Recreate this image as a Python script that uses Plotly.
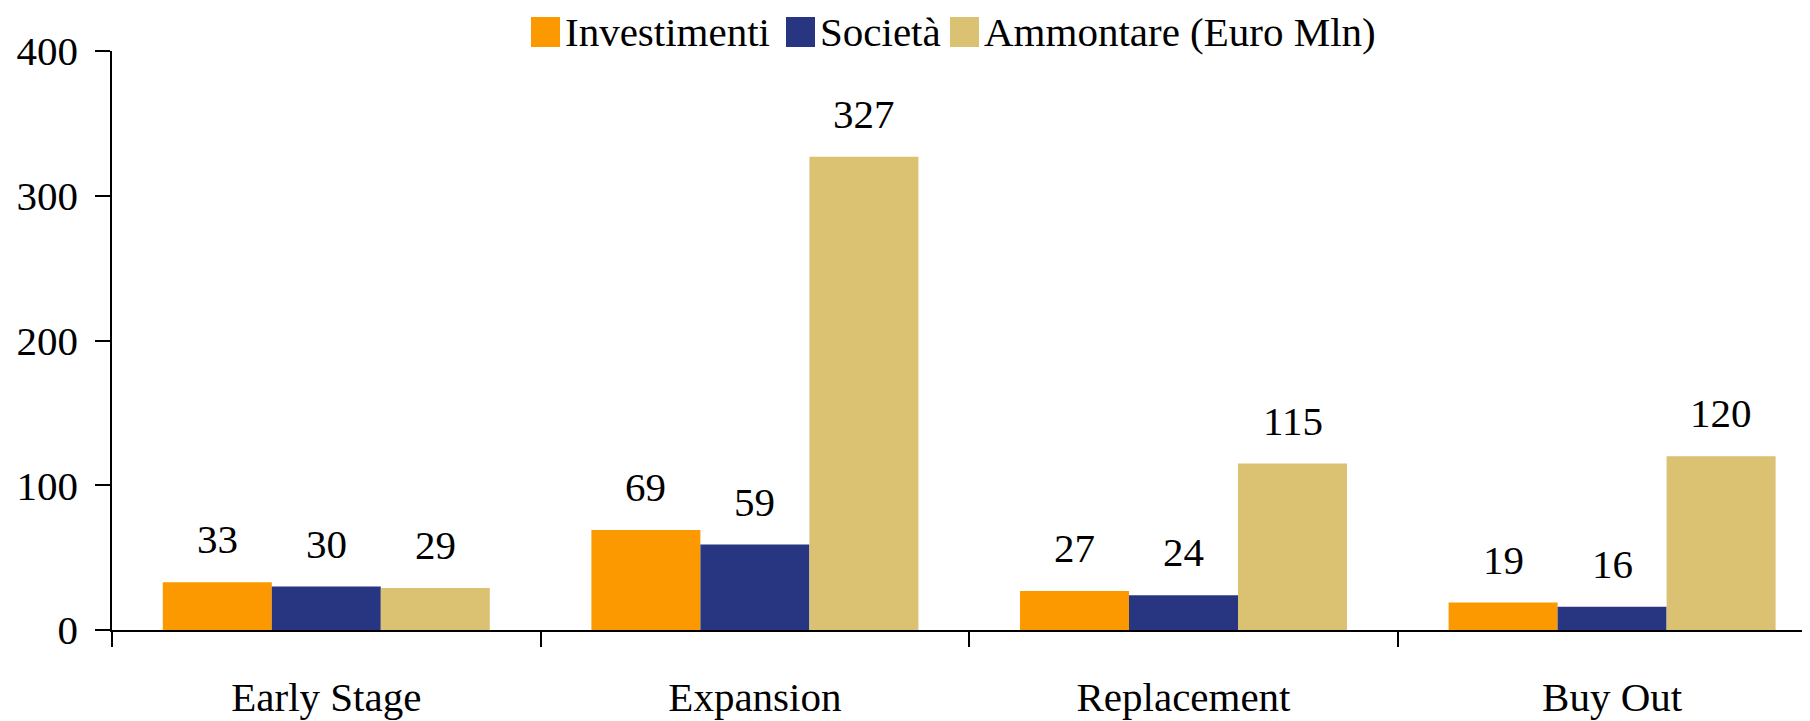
import plotly.graph_objects as go

categories = ["Early Stage", "Expansion", "Replacement", "Buy Out"]
series_names = ["Investimenti", "Società", "Ammontare (Euro Mln)"]
investimenti = [33, 69, 27, 19]
societa = [30, 59, 24, 16]
ammontare = [29, 327, 115, 120]
y_ticks = [0, 100, 200, 300, 400]

colors = ["#FD9900", "#283682", "#DBC172"]
series_values = [investimenti, societa, ammontare]

FONT = "Liberation Serif, Times New Roman, serif"
OFF = 8  # default page body margin
W, H = 1810 - OFF, 721 - OFF
ML, MR, MT, MB = 112 - OFF, 0, 51 - OFF, 91
PW, PH = W - ML - MR, H - MT - MB
BARGAP = 0.237
CAT_PX = 428.6
x_right = -0.5 + PW / CAT_PX

fig = go.Figure()
for name, vals, col in zip(series_names, series_values, colors):
    fig.add_trace(go.Bar(x=categories, y=vals, name=name, marker=dict(color=col, line=dict(width=0)),
                         showlegend=False))

# value labels
bw = (1 - BARGAP) / 3
annotations = []
for j, vals in enumerate(series_values):
    for i, v in enumerate(vals):
        annotations.append(dict(x=i + (j - 1) * bw, y=v, xref="x", yref="y", text=str(v),
                                showarrow=False, yanchor="bottom", xanchor="center", yshift=18,
                                font=dict(family=FONT, size=41, color="black")))

# legend (drawn manually to reproduce large swatches); coordinates in screen pixels
def px2x(px):
    return (px - OFF - ML) / PW

def py2y(py):
    return (H - MB - (py - OFF)) / PH

legend_sw = [(531, 560), (786, 815), (950, 979)]
shapes = []
for (x0, x1), col, name in zip(legend_sw, colors, series_names):
    shapes.append(dict(type="rect", xref="paper", yref="paper", x0=px2x(x0), x1=px2x(x1),
                       y0=py2y(47), y1=py2y(17), fillcolor=col, line=dict(width=0)))
    annotations.append(dict(x=px2x(x1 + 3), y=py2y(32), xref="paper", yref="paper", text=name,
                            showarrow=False, xanchor="left", yanchor="middle",
                            font=dict(family=FONT, size=41, color="black")))

fig.update_layout(
    width=W, height=H,
    margin=dict(l=ML, r=MR, t=MT, b=MB),
    paper_bgcolor="white", plot_bgcolor="white",
    barmode="group", bargap=BARGAP, bargroupgap=0,
    font=dict(family=FONT, size=41, color="black"),
    annotations=annotations, shapes=shapes,
    showlegend=False,
)
fig.update_xaxes(type="category", range=[-0.5, x_right], showline=True, linecolor="black", linewidth=2,
                 ticks="outside", tickson="boundaries", ticklen=15, tickwidth=1.5, tickcolor="black",
                 ticklabelstandoff=30, showgrid=False, zeroline=False,
                 tickfont=dict(family=FONT, size=41, color="black"))
fig.update_yaxes(range=[0, 400], tickvals=y_ticks, showline=True, linecolor="black", linewidth=1.5,
                 ticks="outside", ticklen=15, tickwidth=1.5, tickcolor="black", showgrid=False,
                 zeroline=False, ticklabelstandoff=9,
                 tickfont=dict(family=FONT, size=41, color="black"))

fig.write_html("out.html")
